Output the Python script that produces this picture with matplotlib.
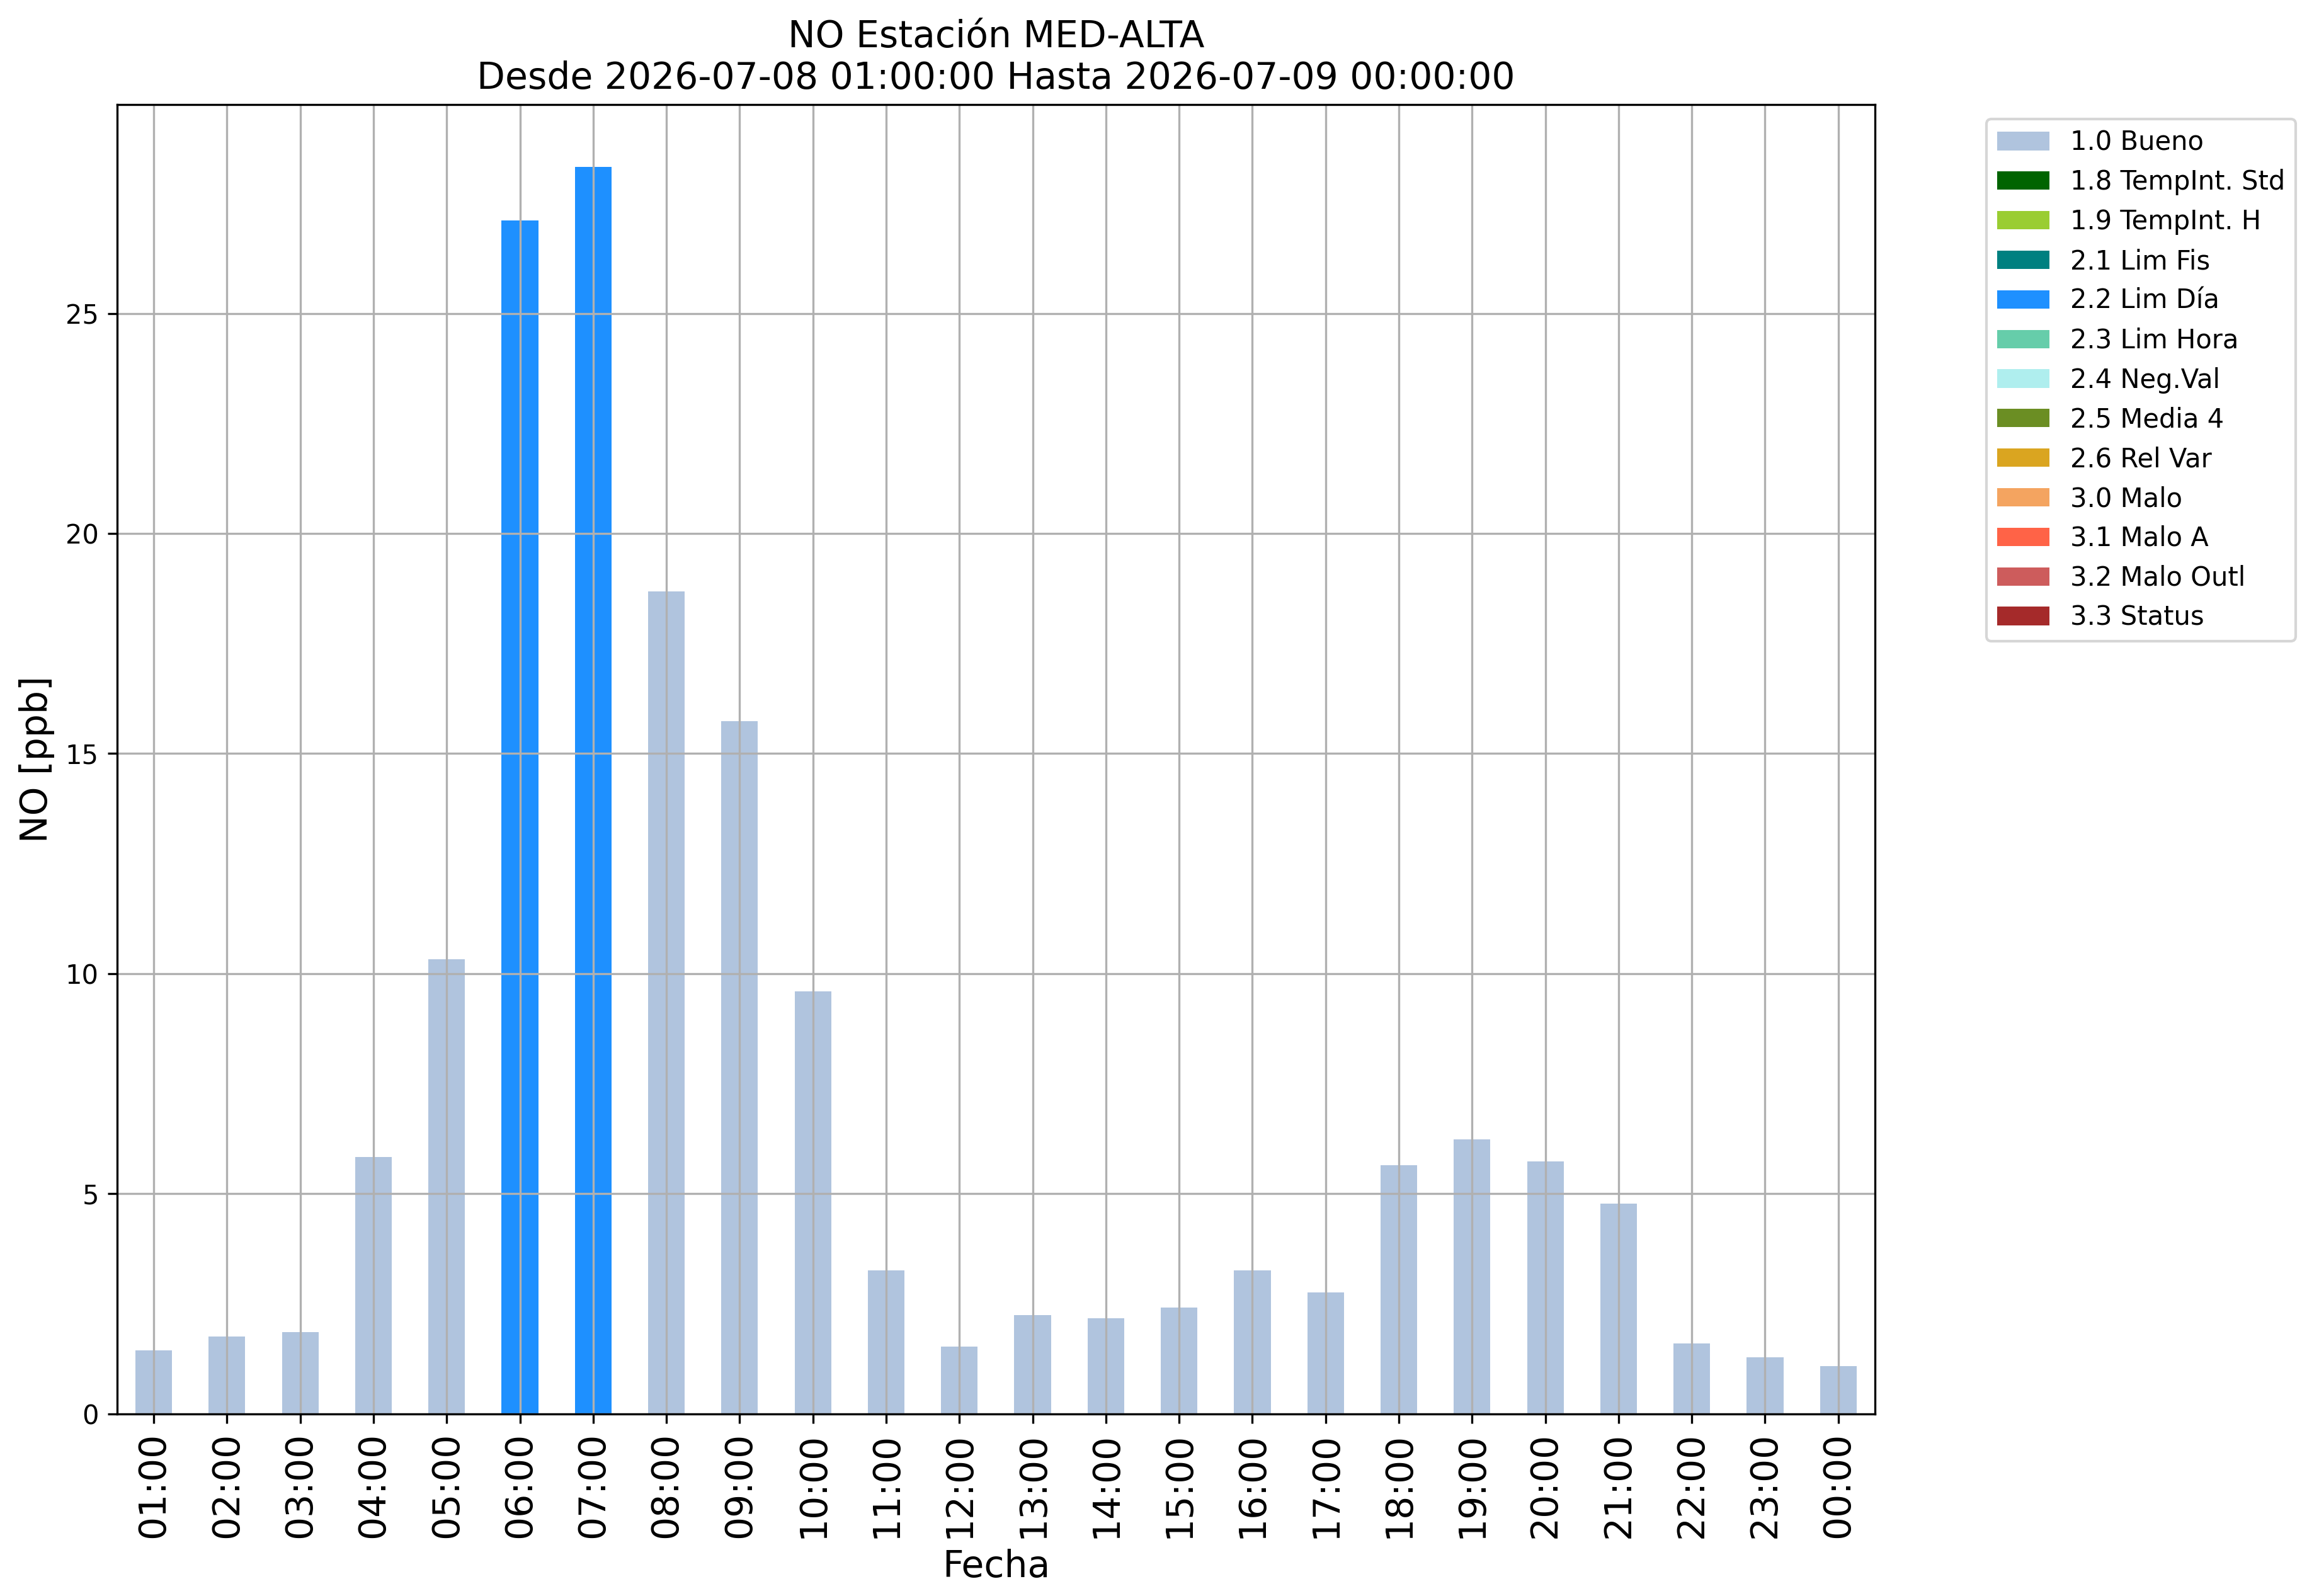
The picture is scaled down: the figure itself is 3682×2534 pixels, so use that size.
import matplotlib
matplotlib.use('Agg')
import matplotlib.pyplot as plt
import numpy as np

# ── Data ──────────────────────────────────────────────────────────────────────
hours = ['01:00', '02:00', '03:00', '04:00', '05:00', '06:00', '07:00', '08:00',
         '09:00', '10:00', '11:00', '12:00', '13:00', '14:00', '15:00', '16:00',
         '17:00', '18:00', '19:00', '20:00', '21:00', '22:00', '23:00', '00:00']
no_ppb = [1.44, 1.75, 1.85, 5.83, 10.32, 27.11, 28.33, 18.68,
          15.74, 9.59, 3.26, 1.53, 2.24, 2.17, 2.41, 3.26,
          2.75, 5.65, 6.24, 5.74, 4.78, 1.60, 1.28, 1.08]
flags = ['1.0 Bueno'] * 5 + ['2.2 Lim Día'] * 2 + ['1.0 Bueno'] * 17

categories = ['1.0 Bueno', '1.8 TempInt. Std', '1.9 TempInt. H', '2.1 Lim Fis',
              '2.2 Lim Día', '2.3 Lim Hora', '2.4 Neg.Val', '2.5 Media 4',
              '2.6 Rel Var', '3.0 Malo', '3.1 Malo A', '3.2 Malo Outl', '3.3 Status']
cat_colors = ['lightsteelblue', 'darkgreen', 'yellowgreen', 'teal',
              'dodgerblue', 'mediumaquamarine', 'paleturquoise', 'olivedrab',
              'goldenrod', 'sandybrown', 'tomato', 'indianred', 'brown']

# ── Figure ────────────────────────────────────────────────────────────────────
fig = plt.figure(figsize=(3682 / 300, 2534 / 300), dpi=300)
ax = fig.add_axes([0.0505, 0.1142, 0.758, 0.8203])

x = np.arange(len(hours))
vals = np.array(no_ppb)
bottom = np.zeros(len(hours))
for cat, col in zip(categories, cat_colors):
    h = np.where(np.array(flags) == cat, vals, 0.0)
    ax.bar(x, h, width=0.5, bottom=bottom, color=col, label=cat)
    bottom += h

ax.set_xlim(-0.5, len(hours) - 0.5)
ax.set_ylim(0, vals.max() * 1.05)
ax.set_xticks(x)
ax.set_xticklabels(hours, rotation=90, fontsize=14)
ax.tick_params(axis='y', labelsize=10)
ax.grid(True, color='#b0b0b0', linewidth=0.8)

ax.set_xlabel('Fecha', fontsize=14)
ax.set_ylabel('NO [ppb]', fontsize=14)
ax.set_title('NO Estación MED-ALTA\nDesde 2026-07-08 01:00:00 Hasta 2026-07-09 00:00:00',
             fontsize=14)

# legend outside, to the right of the axes
ax.legend(loc='upper left', bbox_to_anchor=(0.8509, 0.9337),
          bbox_transform=fig.transFigure, fontsize=10)

fig.savefig('out.png', dpi=300, facecolor='white')
plt.close(fig)
